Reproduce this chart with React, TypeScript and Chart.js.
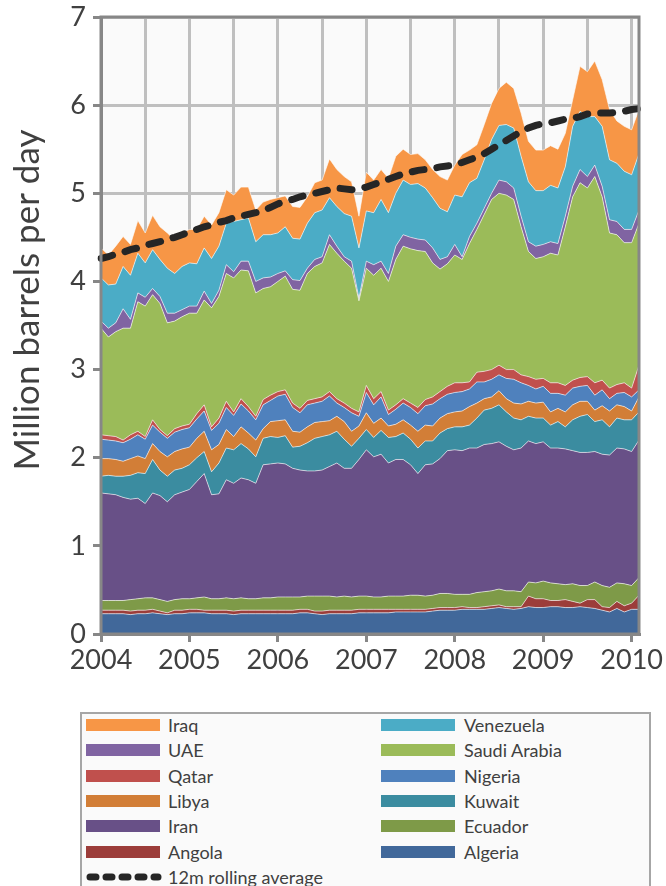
import React, { useEffect, useRef } from 'react';
import { Chart, registerables } from 'chart.js';

Chart.register(...registerables);

// ---------- DATA ----------
const years = ['2004', '2005', '2006', '2007', '2008', '2009', '2010'];
const monthNames = ['Jan', 'Feb', 'Mar', 'Apr', 'May', 'Jun', 'Jul', 'Aug', 'Sep', 'Oct', 'Nov', 'Dec'];
const monthCount = 74; // Jan 2004 .. Feb 2010

const yTicks = [0, 1, 2, 3, 4, 5, 6, 7];
const yTitle = 'Million barrels per day';

// million barrels per day, monthly
const algeria = [
  0.23, 0.23, 0.23, 0.23, 0.22, 0.23, 0.23, 0.24, 0.23, 0.22, 0.23, 0.23, 0.24, 0.24, 0.24, 0.23, 0.23, 0.23, 0.22, 0.23, 0.23, 0.23, 0.23, 0.23,
  0.23, 0.23, 0.23, 0.24, 0.24, 0.23, 0.22, 0.23, 0.23, 0.23, 0.23, 0.24, 0.24, 0.24, 0.24, 0.24, 0.25, 0.25, 0.25, 0.25, 0.25, 0.26, 0.27, 0.27,
  0.27, 0.28, 0.28, 0.28, 0.28, 0.29, 0.30, 0.29, 0.28, 0.29, 0.31, 0.30, 0.30, 0.31, 0.31, 0.30, 0.30, 0.31, 0.30, 0.29, 0.27, 0.25, 0.29, 0.25, 0.28, 0.28,
];
const angola = [
  0.04, 0.04, 0.04, 0.04, 0.04, 0.04, 0.04, 0.04, 0.03, 0.02, 0.04, 0.04, 0.04, 0.04, 0.03, 0.04, 0.04, 0.04, 0.04, 0.04, 0.04, 0.04, 0.04, 0.04,
  0.04, 0.04, 0.04, 0.04, 0.04, 0.03, 0.04, 0.04, 0.04, 0.04, 0.04, 0.04, 0.04, 0.04, 0.04, 0.04, 0.03, 0.03, 0.03, 0.03, 0.03, 0.03, 0.03, 0.03,
  0.03, 0.03, 0.02, 0.02, 0.03, 0.03, 0.03, 0.02, 0.03, 0.02, 0.12, 0.10, 0.10, 0.07, 0.07, 0.09, 0.07, 0.04, 0.09, 0.10, 0.04, 0.05, 0.08, 0.07, 0.07, 0.16,
];
const ecuador = [
  0.11, 0.11, 0.11, 0.11, 0.13, 0.13, 0.14, 0.13, 0.13, 0.13, 0.12, 0.13, 0.12, 0.13, 0.15, 0.13, 0.13, 0.14, 0.14, 0.14, 0.13, 0.13, 0.14, 0.14,
  0.15, 0.15, 0.15, 0.14, 0.15, 0.17, 0.17, 0.16, 0.15, 0.16, 0.15, 0.15, 0.15, 0.14, 0.14, 0.15, 0.15, 0.15, 0.16, 0.16, 0.15, 0.15, 0.16, 0.16,
  0.15, 0.14, 0.15, 0.17, 0.17, 0.17, 0.18, 0.18, 0.18, 0.17, 0.16, 0.18, 0.20, 0.20, 0.19, 0.17, 0.20, 0.20, 0.16, 0.20, 0.24, 0.23, 0.21, 0.25, 0.20, 0.20,
];
const iran = [
  1.22, 1.21, 1.20, 1.17, 1.14, 1.14, 1.07, 1.19, 1.18, 1.13, 1.19, 1.21, 1.24, 1.32, 1.40, 1.18, 1.19, 1.34, 1.31, 1.36, 1.35, 1.31, 1.51, 1.52,
  1.52, 1.51, 1.46, 1.44, 1.42, 1.42, 1.43, 1.47, 1.52, 1.45, 1.46, 1.55, 1.66, 1.59, 1.62, 1.51, 1.55, 1.55, 1.48, 1.38, 1.49, 1.49, 1.53, 1.62,
  1.64, 1.63, 1.66, 1.64, 1.67, 1.67, 1.67, 1.64, 1.60, 1.63, 1.60, 1.58, 1.58, 1.53, 1.54, 1.54, 1.51, 1.51, 1.51, 1.48, 1.49, 1.50, 1.53, 1.53, 1.52, 1.56,
];
const kuwait = [
  0.19, 0.21, 0.21, 0.24, 0.27, 0.29, 0.34, 0.38, 0.29, 0.29, 0.28, 0.27, 0.28, 0.27, 0.25, 0.26, 0.35, 0.36, 0.38, 0.39, 0.35, 0.30, 0.30, 0.31,
  0.29, 0.32, 0.24, 0.27, 0.32, 0.37, 0.38, 0.36, 0.36, 0.33, 0.25, 0.24, 0.23, 0.22, 0.27, 0.29, 0.26, 0.30, 0.29, 0.29, 0.27, 0.26, 0.29, 0.25,
  0.26, 0.27, 0.26, 0.34, 0.39, 0.40, 0.42, 0.39, 0.36, 0.32, 0.28, 0.29, 0.27, 0.26, 0.30, 0.25, 0.35, 0.41, 0.43, 0.34, 0.39, 0.32, 0.34, 0.33, 0.36, 0.32,
];
const libya = [
  0.20, 0.19, 0.19, 0.17, 0.19, 0.19, 0.17, 0.18, 0.21, 0.22, 0.21, 0.22, 0.20, 0.22, 0.23, 0.25, 0.21, 0.21, 0.15, 0.19, 0.18, 0.19, 0.11, 0.17,
  0.19, 0.18, 0.18, 0.16, 0.18, 0.18, 0.17, 0.16, 0.17, 0.20, 0.17, 0.14, 0.19, 0.16, 0.14, 0.13, 0.14, 0.15, 0.16, 0.19, 0.18, 0.17, 0.17, 0.17,
  0.17, 0.18, 0.21, 0.17, 0.13, 0.13, 0.16, 0.15, 0.17, 0.18, 0.17, 0.17, 0.18, 0.15, 0.15, 0.17, 0.17, 0.17, 0.15, 0.13, 0.16, 0.18, 0.15, 0.15, 0.10, 0.17,
];
const nigeria = [
  0.22, 0.21, 0.21, 0.21, 0.22, 0.24, 0.22, 0.21, 0.22, 0.21, 0.22, 0.22, 0.22, 0.22, 0.23, 0.22, 0.24, 0.25, 0.24, 0.26, 0.25, 0.23, 0.27, 0.24,
  0.28, 0.29, 0.27, 0.22, 0.25, 0.22, 0.23, 0.28, 0.15, 0.16, 0.21, 0.11, 0.23, 0.21, 0.24, 0.13, 0.17, 0.19, 0.20, 0.20, 0.22, 0.25, 0.22, 0.22,
  0.22, 0.22, 0.20, 0.24, 0.19, 0.20, 0.18, 0.23, 0.27, 0.24, 0.18, 0.16, 0.18, 0.21, 0.17, 0.19, 0.19, 0.17, 0.18, 0.17, 0.18, 0.14, 0.13, 0.16, 0.16, 0.08,
];
const qatar = [
  0.05, 0.05, 0.05, 0.03, 0.05, 0.04, 0.03, 0.06, 0.03, 0.03, 0.04, 0.04, 0.04, 0.06, 0.07, 0.04, 0.06, 0.07, 0.04, 0.06, 0.05, 0.04, 0.06, 0.06,
  0.05, 0.05, 0.05, 0.05, 0.05, 0.05, 0.05, 0.05, 0.05, 0.05, 0.05, 0.05, 0.08, 0.07, 0.06, 0.05, 0.05, 0.05, 0.05, 0.07, 0.07, 0.08, 0.08, 0.09,
  0.11, 0.10, 0.08, 0.11, 0.12, 0.11, 0.11, 0.10, 0.11, 0.09, 0.10, 0.11, 0.09, 0.12, 0.12, 0.11, 0.09, 0.10, 0.10, 0.14, 0.11, 0.12, 0.10, 0.11, 0.10, 0.28,
];
const saudiArabia = [
  1.21, 1.12, 1.19, 1.27, 1.21, 1.47, 1.48, 1.42, 1.43, 1.28, 1.22, 1.24, 1.26, 1.14, 1.19, 1.35, 1.38, 1.45, 1.52, 1.46, 1.54, 1.40, 1.26, 1.23,
  1.25, 1.29, 1.29, 1.34, 1.44, 1.50, 1.52, 1.67, 1.65, 1.61, 1.59, 1.26, 1.33, 1.40, 1.40, 1.46, 1.65, 1.73, 1.75, 1.78, 1.68, 1.52, 1.39, 1.39,
  1.45, 1.40, 1.57, 1.62, 1.78, 1.93, 1.95, 1.98, 1.93, 1.68, 1.42, 1.37, 1.38, 1.47, 1.45, 1.80, 2.08, 2.21, 2.14, 2.34, 2.08, 1.76, 1.70, 1.59, 1.65, 1.61,
];
const uae = [
  0.08, 0.10, 0.10, 0.22, 0.10, 0.10, 0.10, 0.07, 0.08, 0.11, 0.09, 0.08, 0.08, 0.08, 0.10, 0.05, 0.07, 0.10, 0.07, 0.10, 0.11, 0.13, 0.12, 0.11,
  0.09, 0.06, 0.11, 0.11, 0.06, 0.08, 0.07, 0.11, 0.08, 0.05, 0.08, 0.03, 0.08, 0.12, 0.08, 0.09, 0.15, 0.13, 0.13, 0.13, 0.13, 0.17, 0.11, 0.08,
  0.12, 0.03, 0.08, 0.07, 0.07, 0.07, 0.15, 0.15, 0.13, 0.12, 0.11, 0.14, 0.14, 0.13, 0.13, 0.12, 0.12, 0.15, 0.13, 0.13, 0.12, 0.15, 0.15, 0.15, 0.15, 0.15,
];
const venezuela = [
  0.49, 0.49, 0.44, 0.48, 0.50, 0.45, 0.39, 0.44, 0.42, 0.51, 0.45, 0.49, 0.49, 0.48, 0.49, 0.51, 0.50, 0.47, 0.57, 0.47, 0.49, 0.45, 0.49, 0.48,
  0.46, 0.50, 0.47, 0.47, 0.51, 0.53, 0.53, 0.42, 0.45, 0.49, 0.51, 0.57, 0.57, 0.59, 0.70, 0.69, 0.60, 0.62, 0.60, 0.63, 0.59, 0.57, 0.58, 0.51,
  0.56, 0.68, 0.61, 0.51, 0.55, 0.61, 0.62, 0.65, 0.68, 0.68, 0.68, 0.63, 0.61, 0.64, 0.63, 0.56, 0.68, 0.66, 0.68, 0.55, 0.68, 0.68, 0.66, 0.66, 0.62, 0.64,
];
const iraq = [
  0.34, 0.34, 0.43, 0.34, 0.35, 0.37, 0.34, 0.39, 0.37, 0.40, 0.38, 0.38, 0.38, 0.39, 0.36, 0.38, 0.38, 0.38, 0.30, 0.37, 0.35, 0.36, 0.37, 0.40,
  0.40, 0.35, 0.36, 0.36, 0.30, 0.34, 0.34, 0.44, 0.42, 0.42, 0.39, 0.36, 0.44, 0.37, 0.34, 0.39, 0.42, 0.35, 0.34, 0.34, 0.32, 0.32, 0.36, 0.36,
  0.34, 0.48, 0.37, 0.38, 0.40, 0.41, 0.42, 0.48, 0.45, 0.49, 0.46, 0.46, 0.46, 0.45, 0.44, 0.38, 0.30, 0.51, 0.51, 0.63, 0.53, 0.57, 0.48, 0.51, 0.51, 0.50,
];
const rollingAverage = [
  4.26, 4.28, 4.31, 4.33, 4.36, 4.38, 4.41, 4.43, 4.45, 4.48, 4.50, 4.53, 4.56, 4.59, 4.62, 4.64, 4.67, 4.69, 4.72, 4.74, 4.76, 4.78, 4.80, 4.84,
  4.88, 4.91, 4.93, 4.96, 4.98, 5.00, 5.02, 5.04, 5.06, 5.05, 5.04, 5.05, 5.07, 5.10, 5.13, 5.16, 5.19, 5.22, 5.24, 5.26, 5.27, 5.28, 5.30, 5.31,
  5.32, 5.35, 5.38, 5.41, 5.45, 5.50, 5.55, 5.60, 5.65, 5.70, 5.74, 5.77, 5.79, 5.80, 5.82, 5.84, 5.85, 5.87, 5.90, 5.91, 5.91, 5.91, 5.92, 5.93, 5.95, 5.96,
];

// stacking order, bottom to top
const seriesNames = ['Algeria', 'Angola', 'Ecuador', 'Iran', 'Kuwait', 'Libya', 'Nigeria', 'Qatar', 'Saudi Arabia', 'UAE', 'Venezuela', 'Iraq'];
const seriesValues = [algeria, angola, ecuador, iran, kuwait, libya, nigeria, qatar, saudiArabia, uae, venezuela, iraq];
const seriesColors = ['#41689A', '#9C3D3A', '#7E9A48', '#685087', '#3B8CA0', '#D27E37', '#4F81BD', '#C0504D', '#9BBB59', '#8064A2', '#4BACC6', '#F79646'];
const averageLabel = '12m rolling average';

// legend order (row-major, two columns)
const legendOrder = ['Iraq', 'Venezuela', 'UAE', 'Saudi Arabia', 'Qatar', 'Nigeria', 'Libya', 'Kuwait', 'Iran', 'Ecuador', 'Angola', 'Algeria'];

const monthLabels: string[] = [];
for (let i = 0; i < monthCount; i++) {
  monthLabels.push(monthNames[i % 12] + ' ' + years[Math.floor(i / 12)]);
}

// ---------- STYLE ----------
const FONT = 'Lato, "Open Sans", sans-serif';
const TEXT = '#404040';
const GRID = '#BFBFBF';
const AXIS = '#878787';

const plotPlugin = {
  id: 'plotDecor',
  beforeDraw(chart: any) {
    const { ctx, chartArea: a } = chart;
    ctx.save();
    ctx.fillStyle = '#FAFAFA';
    ctx.fillRect(a.left, a.top, a.right - a.left, a.bottom - a.top);
    ctx.restore();
  },
  afterDatasetsDraw(chart: any) {
    const { ctx, chartArea: a } = chart;
    ctx.save();
    ctx.strokeStyle = AXIS;
    ctx.lineWidth = 3;
    ctx.strokeRect(a.left, a.top, a.right - a.left, a.bottom - a.top);
    ctx.restore();
  },
  afterDraw(chart: any) {
    const { ctx } = chart;
    ctx.save();
    ctx.translate(28, 300);
    ctx.rotate(-Math.PI / 2);
    ctx.font = '35px ' + FONT;
    ctx.fillStyle = TEXT;
    ctx.textAlign = 'center';
    ctx.textBaseline = 'middle';
    ctx.fillText(yTitle, 0, 0);
    ctx.restore();
  },
};

function ChartCanvas() {
  const ref = useRef<HTMLCanvasElement | null>(null);
  useEffect(() => {
    if (!ref.current) return;
    const datasets: any[] = seriesValues.map((vals, i) => ({
      type: 'line',
      label: seriesNames[i],
      data: vals,
      backgroundColor: seriesColors[i],
      borderColor: 'rgba(255,255,255,0.6)',
      borderWidth: 1,
      fill: i === 0 ? 'origin' : '-1',
      pointRadius: 0,
      pointHoverRadius: 0,
      tension: 0,
      stack: 'oil',
    }));
    datasets.push({
      type: 'line',
      label: averageLabel,
      data: rollingAverage,
      borderColor: '#262626',
      borderWidth: 7,
      borderDash: [12, 13],
      borderCapStyle: 'round',
      fill: false,
      pointRadius: 0,
      pointHoverRadius: 0,
      tension: 0,
      stack: 'avg',
      order: -1,
    });
    const chart = new Chart(ref.current, {
      type: 'line',
      data: { labels: monthLabels, datasets },
      options: {
        animation: false,
        responsive: false,
        events: [],
        layout: { padding: { left: 0, right: 27, top: 17, bottom: 0 } },
        plugins: { legend: { display: false }, tooltip: { enabled: false } },
        scales: {
          x: {
            type: 'category',
            offset: false,
            grid: {
              color: (c: any) => (c.index % 6 === 0 ? GRID : 'rgba(0,0,0,0)'),
              lineWidth: 3,
              tickColor: (c: any) => (c.index % 12 === 0 ? AXIS : 'rgba(0,0,0,0)'),
              tickWidth: 3,
              tickLength: 8,
            },
            border: { display: true, color: AXIS, width: 3 },
            ticks: {
              autoSkip: false,
              maxRotation: 0,
              minRotation: 0,
              padding: 2,
              color: TEXT,
              font: { family: FONT, size: 27 },
              callback: (_v: any, i: number) => (i % 12 === 0 ? years[i / 12] : ''),
            },
            afterFit: (s: any) => {
              s.height = 66;
              s.paddingLeft = 0;
              s.paddingRight = 0;
            },
          },
          y: {
            stacked: true,
            min: yTicks[0],
            max: yTicks[yTicks.length - 1],
            grid: { color: GRID, lineWidth: 3, tickColor: AXIS, tickWidth: 3, tickLength: 8 },
            border: { display: true, color: AXIS, width: 3 },
            ticks: {
              stepSize: 1,
              padding: 7,
              color: TEXT,
              font: { family: FONT, size: 27 },
            },
            afterFit: (s: any) => {
              s.width = 101;
              s.paddingTop = 0;
              s.paddingBottom = 0;
            },
          },
        },
      } as any,
      plugins: [plotPlugin],
    });
    return () => chart.destroy();
  }, []);
  return <canvas ref={ref} width={666} height={700} style={{ position: 'absolute', left: 0, top: 0 }} />;
}

function Legend() {
  const rowY = (r: number) => 725 + r * 25.3;
  const items = legendOrder.map((name, k) => {
    const r = Math.floor(k / 2);
    const c = k % 2;
    const color = seriesColors[seriesNames.indexOf(name)];
    return (
      <React.Fragment key={name}>
        <div
          style={{
            position: 'absolute',
            left: c ? 381 : 86,
            top: rowY(r) - 6,
            width: 74,
            height: 12,
            background: color,
          }}
        />
        <div
          style={{
            position: 'absolute',
            left: c ? 464 : 168,
            top: rowY(r) - 12,
            height: 24,
            lineHeight: '24px',
            fontSize: 18,
            color: TEXT,
            whiteSpace: 'nowrap',
          }}
        >
          {name}
        </div>
      </React.Fragment>
    );
  });
  const r = 6;
  return (
    <>
      <div
        style={{
          position: 'absolute',
          left: 80,
          top: 712,
          width: 571,
          height: 190,
          border: '2px solid #A6A6A6',
          background: '#FAFAFA',
          boxSizing: 'border-box',
        }}
      />
      {items}
      <svg style={{ position: 'absolute', left: 84, top: rowY(r) - 6 }} width={80} height={12}>
        <line x1={6} y1={6} x2={74} y2={6} stroke="#262626" strokeWidth={7} strokeDasharray="6 10" strokeLinecap="round" />
      </svg>
      <div
        style={{
          position: 'absolute',
          left: 168,
          top: rowY(r) - 12,
          height: 24,
          lineHeight: '24px',
          fontSize: 18,
          color: TEXT,
          whiteSpace: 'nowrap',
        }}
      >
        {averageLabel}
      </div>
    </>
  );
}

export default function App() {
  return (
    <div
      style={{
        position: 'absolute',
        left: 0,
        top: 0,
        width: 666,
        height: 886,
        overflow: 'hidden',
        background: '#FFFFFF',
        fontFamily: FONT,
      }}
    >
      <ChartCanvas />
      <Legend />
    </div>
  );
}
